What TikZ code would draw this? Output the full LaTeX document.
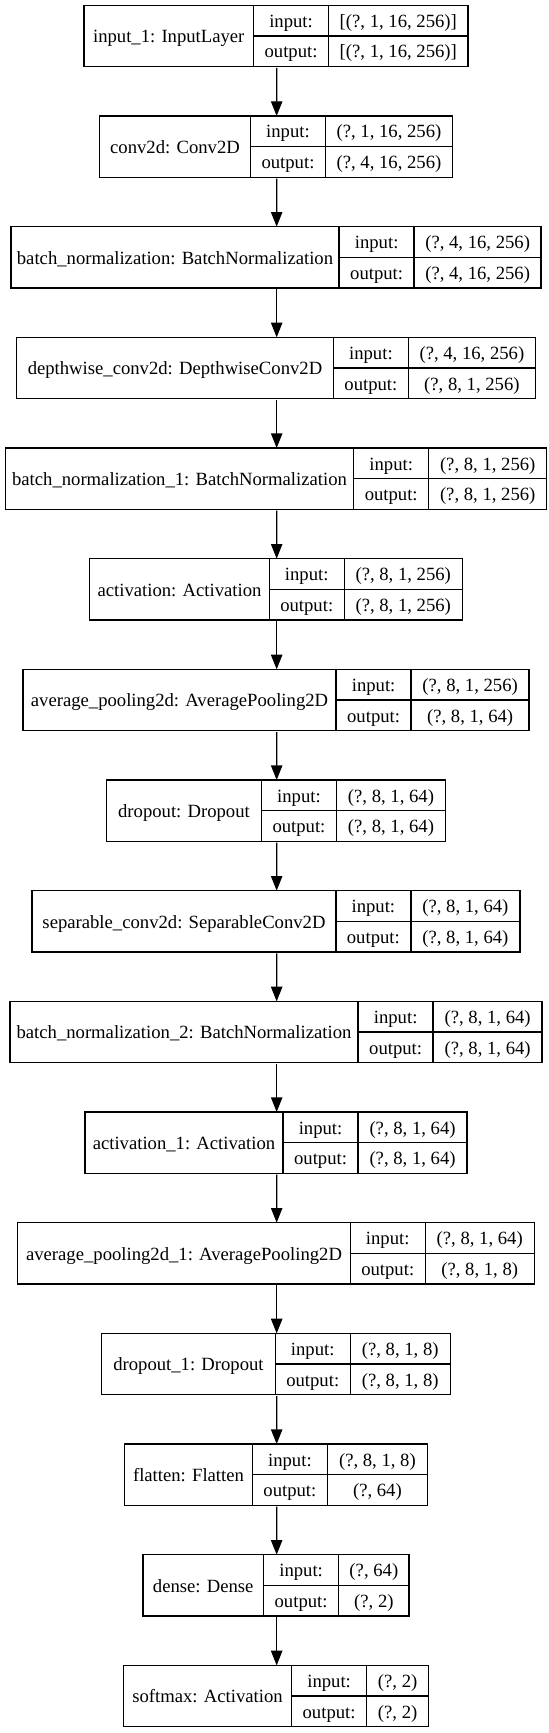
\documentclass[tikz,border=0pt]{standalone}
\usepackage{fontspec}
\setmainfont{Liberation Serif}
\usetikzlibrary{arrows.meta}
\tikzset{
  cell/.style={draw, line width=1pt, outer sep=0pt, inner sep=0pt,
    text height=11.5pt, text depth=1.5pt, align=center},
  rec/.style={line width=1pt, minimum height=46pt, inner sep=0pt, outer sep=0.5pt},
  arr/.style={line width=1pt, -{Triangle[length=11pt,width=8.5pt]}}
}
% #1 id, #2 rank, #3 name-column width (px), #4 value-column width (px),
% #5 layer text, #6 input shape, #7 output shape
\newcommand\layer[7]{%
  \pgfmathsetmacro\recW{#3+75+#4}%
  \pgfmathsetmacro\recL{276-\recW/2}%
  \pgfmathsetmacro\recT{5.33+#2*110.67}%
  \node[rec, minimum width=\recW*0.75pt, anchor=north west] (#1) at (\recL,\recT) {};
  \node[cell, minimum width=#3*0.75pt, minimum height=46pt, anchor=north west]
    (#1n) at (\recL,\recT) {#5};
  \node[cell, minimum width=56.25pt, minimum height=23pt, anchor=north west]
    (#1il) at (#1n.north east) {input:};
  \node[cell, minimum width=56.25pt, minimum height=23pt, anchor=north west]
    (#1ol) at (#1il.south west) {output:};
  \node[cell, minimum width=#4*0.75pt, minimum height=23pt, anchor=north west]
    (#1iv) at (#1il.north east) {#6};
  \node[cell, minimum width=#4*0.75pt, minimum height=23pt, anchor=north west]
    (#1ov) at (#1iv.south west) {#7};
}
\begin{document}
\begin{tikzpicture}[x=0.75pt, y=-0.75pt, font=\fontsize{14pt}{16.8pt}\selectfont]
\useasboundingbox[fill=white] (0,0) rectangle (549,1733);
\layer{L0}{0}{169.6}{139.5}{input\_1: InputLayer}{[(?, 1, 16, 256)]}{[(?, 1, 16, 256)]}
\layer{L1}{1}{151}{127}{conv2d: Conv2D}{(?, 1, 16, 256)}{(?, 4, 16, 256)}
\layer{L2}{2}{328.3}{127}{batch\_normalization: BatchNormalization}{(?, 4, 16, 256)}{(?, 4, 16, 256)}
\layer{L3}{3}{316.8}{127}{depthwise\_conv2d: DepthwiseConv2D}{(?, 4, 16, 256)}{(?, 8, 1, 256)}
\layer{L4}{4}{348.4}{118}{batch\_normalization\_1: BatchNormalization}{(?, 8, 1, 256)}{(?, 8, 1, 256)}
\layer{L5}{5}{179.5}{118}{activation: Activation}{(?, 8, 1, 256)}{(?, 8, 1, 256)}
\layer{L6}{6}{313.2}{118}{average\_pooling2d: AveragePooling2D}{(?, 8, 1, 256)}{(?, 8, 1, 64)}
\layer{L7}{7}{154.9}{109}{dropout: Dropout}{(?, 8, 1, 64)}{(?, 8, 1, 64)}
\layer{L8}{8}{303.7}{109}{separable\_conv2d: SeparableConv2D}{(?, 8, 1, 64)}{(?, 8, 1, 64)}
\layer{L9}{9}{348.3}{109}{batch\_normalization\_2: BatchNormalization}{(?, 8, 1, 64)}{(?, 8, 1, 64)}
\layer{L10}{10}{198.1}{109}{activation\_1: Activation}{(?, 8, 1, 64)}{(?, 8, 1, 64)}
\layer{L11}{11}{332.5}{109}{average\_pooling2d\_1: AveragePooling2D}{(?, 8, 1, 64)}{(?, 8, 1, 8)}
\layer{L12}{12}{173.5}{100}{dropout\_1: Dropout}{(?, 8, 1, 8)}{(?, 8, 1, 8)}
\layer{L13}{13}{127.8}{100}{flatten: Flatten}{(?, 8, 1, 8)}{(?, 64)}
\layer{L14}{14}{120.7}{70.5}{dense: Dense}{(?, 64)}{(?, 2)}
\layer{L15}{15}{168.2}{62}{softmax: Activation}{(?, 2)}{(?, 2)}
\foreach \i [evaluate=\i as \j using int(\i+1)] in {0,...,14}
  \draw[arr] (L\i) -- (L\j);
\end{tikzpicture}
\end{document}
